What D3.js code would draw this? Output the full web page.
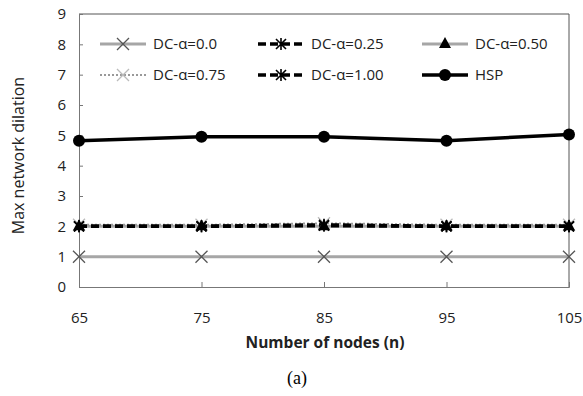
<!DOCTYPE html>
<html>
<head>
<meta charset="utf-8">
<script src="https://cdn.jsdelivr.net/npm/d3@7"></script>
<style>
  body { margin: 0; background: #fff; }
  svg { display: block; }
</style>
</head>
<body>
<div class="myChart"></div>
<script>
// Data
var nodes = [65, 75, 85, 95, 105];
var yTicks = [0, 1, 2, 3, 4, 5, 6, 7, 8, 9];
var dc000 = [1, 1, 1, 1, 1];
var dc025 = [2, 2, 2.05, 2, 2];
var dc050 = [2, 2, 2, 2, 2];
var dc075 = [2.05, 2.05, 2.1, 2.05, 2.05];
var dc100 = [2, 2, 2.02, 2, 2];
var hsp = [4.82, 4.95, 4.95, 4.82, 5.03];

var width = 583, height = 396;
var margin = {top: 14, right: 14, bottom: 109, left: 79};
var innerW = width - margin.left - margin.right;
var innerH = height - margin.top - margin.bottom;

var x = d3.scalePoint().domain(nodes).range([0, innerW]);
var y = d3.scaleLinear().domain([0, 9]).range([innerH, 0]);

var svg = d3.select(".myChart").append("svg")
    .attr("width", width)
    .attr("height", height);

var g = svg.append("g")
    .attr("transform", "translate(" + margin.left + "," + margin.top + ")");

// frame (top + right)
g.append("path")
    .attr("d", "M0,0H" + innerW + "V" + innerH)
    .attr("fill", "none")
    .attr("stroke", "#555")
    .attr("stroke-width", 1);

// Axes
var yAxis = d3.axisLeft(y).tickValues(yTicks).tickSize(-4).tickPadding(13);
var xAxis = d3.axisBottom(x).tickSize(-5).tickPadding(25);

var yG = g.append("g").call(yAxis);
var xG = g.append("g").attr("transform", "translate(0," + innerH + ")").call(xAxis);

[yG, xG].forEach(function(a) {
  a.select(".domain").attr("stroke", "#777");
  a.selectAll(".tick line").attr("stroke", "#777");
  a.selectAll("text")
    .attr("font-family", "'Open Sans', sans-serif")
    .attr("font-size", 15)
    .attr("fill", "#222");
});

// series definitions
var series = [
  {name: "DC-\u03b1=0.0",  values: dc000, color: "#a6a6a6", width: 3,   dash: null,   marker: "x",    mcolor: "#555"},
  {name: "DC-\u03b1=0.50", values: dc050, color: "#a6a6a6", width: 3,   dash: null,   marker: "tri",  mcolor: "#000"},
  {name: "DC-\u03b1=0.75", values: dc075, color: "#999",    width: 2,   dash: "2,2",  marker: "x",    mcolor: "#bbb"},
  {name: "DC-\u03b1=0.25", values: dc025, color: "#000",    width: 3.5, dash: "8,4",  marker: "star", mcolor: "#000"},
  {name: "DC-\u03b1=1.00", values: dc100, color: "#000",    width: 3.5, dash: "8,4",  marker: "star", mcolor: "#000"},
  {name: "HSP",            values: hsp,   color: "#000",    width: 3.5, dash: null,   marker: "dot",  mcolor: "#000"}
];

function drawMarker(sel, type, color) {
  if (type === "x") {
    sel.append("path").attr("d", "M-6,-6L6,6M-6,6L6,-6")
      .attr("stroke", color).attr("stroke-width", 1.3).attr("fill", "none");
  } else if (type === "star") {
    sel.append("path").attr("d", "M-5,-5L5,5M-5,5L5,-5M0,-6V6")
      .attr("stroke", color).attr("stroke-width", 1.6).attr("fill", "none");
  } else if (type === "tri") {
    sel.append("path").attr("d", "M0,-7L6,4H-6Z").attr("fill", color);
  } else if (type === "dot") {
    sel.append("circle").attr("r", 6).attr("fill", color);
  }
}

var line = d3.line()
    .x(function(d, i) { return x(nodes[i]); })
    .y(function(d) { return y(d); });

// lines first
series.forEach(function(s) {
  g.append("path")
    .datum(s.values)
    .attr("d", line)
    .attr("fill", "none")
    .attr("stroke", s.color)
    .attr("stroke-width", s.width)
    .attr("stroke-dasharray", s.dash);
});

// then markers
var markerOrder = [0, 2, 3, 4, 1, 5];
markerOrder.forEach(function(si) {
  var s = series[si];
  s.values.forEach(function(v, i) {
    var m = g.append("g").attr("transform", "translate(" + x(nodes[i]) + "," + y(v) + ")");
    drawMarker(m, s.marker, s.mcolor);
  });
});

// Legend
var legendOrder = [0, 3, 1, 2, 4, 5];
var colX = [21, 179, 343];
var rowY = [30, 61];
legendOrder.forEach(function(si, k) {
  var s = series[si];
  var lg = g.append("g")
    .attr("transform", "translate(" + colX[k % 3] + "," + rowY[Math.floor(k / 3)] + ")");
  lg.append("line")
    .attr("x1", 0).attr("x2", 46).attr("y1", 0).attr("y2", 0)
    .attr("stroke", s.color)
    .attr("stroke-width", s.width)
    .attr("stroke-dasharray", s.dash);
  var m = lg.append("g").attr("transform", "translate(23,0)");
  drawMarker(m, s.marker, s.mcolor);
  lg.append("text")
    .attr("x", 53).attr("y", 5)
    .attr("font-family", "'Open Sans', sans-serif")
    .attr("font-size", 15)
    .attr("fill", "#222")
    .text(s.name);
});

// Axis titles
svg.append("text")
  .attr("transform", "translate(24," + (margin.top + innerH / 2 + 5) + ") rotate(-90)")
  .attr("text-anchor", "middle")
  .attr("font-family", "'Open Sans', sans-serif")
  .attr("font-size", 16)
  .attr("fill", "#222")
  .text("Max network dilation");

svg.append("text")
  .attr("x", 325)
  .attr("y", 348)
  .attr("text-anchor", "middle")
  .attr("font-family", "'Open Sans', sans-serif")
  .attr("font-weight", "bold")
  .attr("font-size", 15.5)
  .attr("fill", "#222")
  .text("Number of nodes (n)");

svg.append("text")
  .attr("x", 297)
  .attr("y", 384)
  .attr("text-anchor", "middle")
  .attr("font-family", "'Liberation Serif', 'Times New Roman', serif")
  .attr("font-size", 18)
  .attr("fill", "#000")
  .text("(a)");
</script>
</body>
</html>
